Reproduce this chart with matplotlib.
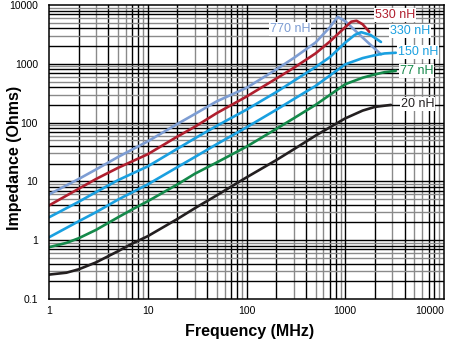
import numpy as np
import matplotlib
matplotlib.use("Agg")
import matplotlib.pyplot as plt

plt.rcParams['font.family'] = ['Liberation Sans', 'DejaVu Sans']

# values (frequency in MHz, impedance in ohms)
f_770 = [1, 2, 3, 5, 10, 20, 30, 50, 100, 200, 300, 500, 700, 840, 1000, 1300, 1700, 2300]
z_770 = [6.0, 11, 16, 26, 48, 95, 140, 230, 390, 800, 1250, 2300, 4200, 6300, 5300, 3500, 2300, 1450]

f_530 = [1, 2, 3, 5, 10, 20, 30, 50, 100, 200, 300, 500, 700, 1000, 1150, 1300, 1500, 1750]
z_530 = [3.9, 7.5, 11, 17, 29, 58, 85, 145, 277, 560, 850, 1500, 2400, 4200, 5200, 5400, 4700, 3500]

f_330 = [1, 2, 3, 5, 10, 20, 30, 50, 100, 200, 300, 500, 700, 1000, 1250, 1450, 1800, 2300]
z_330 = [2.45, 4.5, 6.6, 10.5, 18, 36, 54, 88, 166, 330, 510, 880, 1300, 2300, 3100, 3450, 3100, 2350]

f_150 = [1, 2, 3, 5, 10, 20, 30, 50, 100, 200, 300, 500, 1000, 1500, 2000, 2500, 3250]
z_150 = [1.12, 2.1, 3.0, 4.9, 8.9, 17.5, 26, 43, 83, 165, 250, 420, 980, 1250, 1400, 1500, 1540]

f_77 = [1, 1.5, 2, 3, 5, 7, 10, 20, 30, 50, 100, 200, 300, 500, 1000, 1500, 2000, 2500, 3250]
z_77 = [0.76, 0.9, 1.08, 1.5, 2.45, 3.35, 4.6, 8.9, 13.5, 21, 39, 78, 118, 200, 450, 580, 660, 720, 760]

f_20 = [1, 1.5, 2, 3, 5, 7, 10, 20, 30, 50, 100, 200, 300, 500, 1000, 1500, 2000, 2900]
z_20 = [0.26, 0.28, 0.32, 0.42, 0.65, 0.88, 1.17, 2.3, 3.5, 5.8, 11.7, 23, 35, 60, 118, 160, 185, 200]

series = [
    (f_770, z_770, '#7d9dd3', '770 nH', (270, 29)),
    (f_530, z_530, '#b01f2e', '530 nH', (375, 15)),
    (f_330, z_330, '#1aa0e0', '330 nH', (390, 31)),
    (f_150, z_150, '#1aa0e0', '150 nH', (398, 52)),
    (f_77, z_77, '#14894a', '77 nH', (400, 71)),
    (f_20, z_20, '#231f20', '20 nH', (401, 104)),
]

fig = plt.figure(figsize=(4.5, 3.42), dpi=100)
ax = fig.add_axes([49 / 450, 1 - 299 / 342, 395 / 450, 294 / 342])
ax.set_xscale('log')
ax.set_yscale('log')
ax.set_xlim(1, 10000)
ax.set_ylim(0.1, 10000)

# grid: decades black, minor lines a mix of black and gray
shade = {2: 'k', 3: '#8a8a8a', 4: 'k', 5: '#8a8a8a', 6: '#8a8a8a', 7: 'k', 8: 'k', 9: '#8a8a8a'}
for dec in [1, 10, 100, 1000]:
    for m in range(2, 10):
        ax.axvline(dec * m, color=shade[m], lw=1.0, zorder=1)
for dec in [0.1, 1, 10, 100, 1000]:
    for m in range(2, 10):
        ax.axhline(dec * m, color=shade[m], lw=1.0, zorder=1)
for v in [10, 100, 1000]:
    ax.axvline(v, color='k', lw=1.0, zorder=1)
for v in [1, 10, 100, 1000]:
    ax.axhline(v, color='k', lw=1.0, zorder=1)

for f, z, c, lab, pos in series:
    ax.plot(f, z, color=c, lw=1.9, solid_capstyle='round', zorder=3)
    fig.text(pos[0] / 450, 1 - pos[1] / 342, lab, color=c, fontsize=9,
             va='center', ha='left',
             bbox=dict(facecolor='white', edgecolor='none', pad=0.5), zorder=5)

ax.set_xticks([1, 10, 100, 1000, 10000])
ax.set_xticklabels(['1', '10', '100', '1000', '10000'])
ax.set_yticks([0.1, 1, 10, 100, 1000, 10000])
ax.set_yticklabels(['0.1', '1', '10', '100', '1000', '10000'])
ax.minorticks_off()
ax.tick_params(length=0, labelsize=7.5)
ax.tick_params(axis='y', pad=8)
ax.tick_params(axis='x', pad=5)
ax.get_xticklabels()[-1].set_horizontalalignment('right')
for s in ax.spines.values():
    s.set_linewidth(1.1)
    s.set_zorder(4)

ax.set_xlabel('Frequency (MHz)', fontsize=11.5, fontweight='bold')
ax.set_ylabel('Impedance (Ohms)', fontsize=11.5, fontweight='bold')
ax.xaxis.set_label_coords((250 - 49) / 395, (299 - 324) / 294)
ax.yaxis.set_label_coords((22 - 49) / 395, (299 - 158) / 294)

fig.savefig('out.png', dpi=100)
